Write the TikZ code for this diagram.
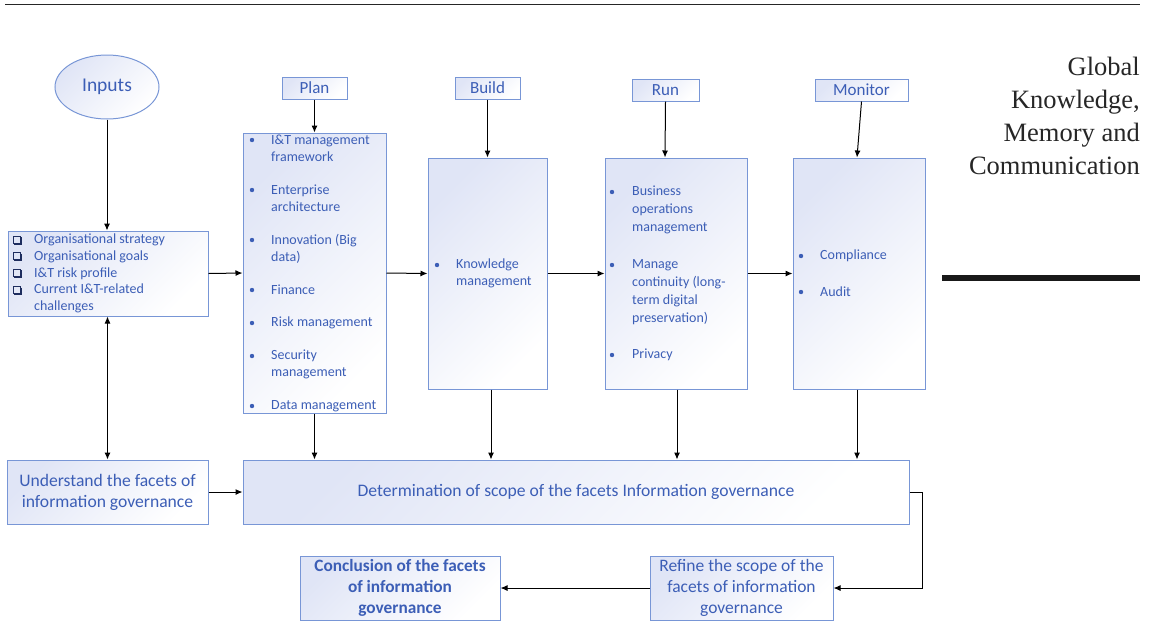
\documentclass[tikz,border=0pt]{standalone}
\usepackage{fontspec}
\setmainfont{Carlito}
\newfontfamily\serifr{Liberation Serif}
\usetikzlibrary{arrows.meta,shapes.geometric}
\definecolor{txtblue}{RGB}{60,94,182}
\definecolor{edgeblue}{RGB}{120,150,214}
\definecolor{shadeblue}{RGB}{224,229,246}
\definecolor{navy}{RGB}{30,45,95}
\tikzset{
  box/.style={draw=edgeblue, line width=1pt, top color=shadeblue, bottom color=white, shading angle=45, inner sep=0pt, text=txtblue, align=center},
  lbl/.style={box, font=\fontsize{17}{19}\selectfont},
  item/.style={anchor=west, inner sep=0pt, text=txtblue, align=left, font=\fontsize{14}{17}\selectfont},
  arr/.style={-{Latex[length=7pt,width=6pt]}, line width=1pt, black},
  dot/.style={fill=txtblue},
}
\begin{document}
\begin{tikzpicture}[x=1pt,y=-1pt]
\useasboundingbox (0,0) rectangle (1153,622);
% page rules
\draw[line width=1.5pt, black!85] (5,4.5) -- (1140,4.5);
\draw[line width=6pt, black!90] (942,278) -- (1140,278);
\node[anchor=east, inner sep=0pt, align=right, font=\serifr\fontsize{26.5}{33}\selectfont, text=black!85] (journal) at (1140,115.5) {Global\\Knowledge,\\Memory and\\Communication};

% inputs
\node[ellipse, draw=edgeblue, line width=1pt, top color=shadeblue, bottom color=white, shading angle=45, minimum width=104, minimum height=64, inner sep=0pt, text=txtblue, font=\fontsize{19.5}{21}\selectfont] (inputs) at (107,87) {Inputs};
\node[box, minimum width=200, minimum height=85] (list) at (108,273.5) {};
\node[item, font=\fontsize{14}{16.75}\selectfont] (listtxt) at (34,273.5) {Organisational strategy\\Organisational goals\\I\&T risk profile\\Current I\&T-related\\challenges};
\foreach \yy in {240,256.5,273,290.5} {
  \draw[navy, line width=0.7pt] (13,\yy-4) rectangle (20,\yy+3);
  \draw[navy, line width=1.2pt] (21,\yy-3) -- (21,\yy+4) -- (14,\yy+4);
}

% stage labels
\node[lbl, minimum width=65, minimum height=22] (planlbl) at (314.5,88) {Plan};
\node[lbl, minimum width=65, minimum height=22] (buildlbl) at (487.5,88) {Build};
\node[lbl, minimum width=67, minimum height=22] (runlbl) at (665.5,90) {Run};
\node[lbl, minimum width=93, minimum height=22] (monlbl) at (861.5,90) {Monitor};

% stage boxes
\node[box, minimum width=143, minimum height=280] (plan) at (314.5,273) {};
\node[box, minimum width=119, minimum height=231] (build) at (487.5,273.5) {};
\node[box, minimum width=142, minimum height=231] (run) at (676,273.5) {};
\node[box, minimum width=132, minimum height=231] (mon) at (859,273.5) {};

% plan items
\node[item] (p1) at (271,148.5) {I\&T management\\framework};
\node[item] (p2) at (271,198.5) {Enterprise\\architecture};
\node[item] (p3) at (271,248.5) {Innovation (Big\\data)};
\node[item] (p4) at (271,290) {Finance};
\node[item] (p5) at (271,323) {Risk management};
\node[item] (p6) at (271,364.5) {Security\\management};
\node[item] (p7) at (271,406) {Data management};
\foreach \yy in {140,190,240,290,323,356,406} \fill[dot] (252,\yy) circle (2.2);

% build items
\node[item] (b1) at (456,273.5) {Knowledge\\management};
\fill[dot] (437,265) circle (2.2);

% run items
\node[item, font=\fontsize{14}{18}\selectfont] (r1) at (632,210) {Business\\operations\\management};
\node[item, font=\fontsize{14}{18}\selectfont] (r2) at (632,292) {Manage\\continuity (long-\\term digital\\preservation)};
\node[item] (r3) at (632,355) {Privacy};
\foreach \yy in {192,265,355} \fill[dot] (612,\yy) circle (2.2);

% monitor items
\node[item] (m1) at (820,256) {Compliance};
\node[item] (m2) at (820,292) {Audit};
\foreach \yy in {256,292} \fill[dot] (801,\yy) circle (2.2);

% lower boxes
\node[box, minimum width=201, minimum height=64, font=\fontsize{17.6}{21}\selectfont] (und) at (107.5,492) {Understand the facets of\\information governance};
\node[box, minimum width=666, minimum height=64, font=\fontsize{17.6}{21}\selectfont] (det) at (576,492) {Determination of scope of the facets Information governance};
\node[box, minimum width=200, minimum height=64, font=\bfseries\fontsize{17.3}{21}\selectfont] (conc) at (400,588) {Conclusion of the facets\\of information\\governance};
\node[box, minimum width=183, minimum height=64, font=\fontsize{17.5}{21}\selectfont] (ref) at (741.5,588) {Refine the scope of the\\facets of information\\governance};

% connectors
\draw[arr] (inputs.south) -- (list.north -| inputs.south);
\draw[{Latex[length=7pt,width=6pt]}-{Latex[length=7pt,width=6pt]}, line width=1pt] (list.south -| und.north) -- (und.north);
\draw[arr] (list.east) -- (plan.west);
\draw[arr] (plan.east) -- (build.west);
\draw[arr] (build.east) -- (run.west);
\draw[arr] (run.east) -- (mon.west);
\draw[arr] (planlbl.south) -- (plan.north);
\draw[arr] (buildlbl.south) -- (build.north);
\draw[arr] (runlbl.south) -- ([xshift=-11pt]run.north);
\draw[arr] (monlbl.south) -- ([xshift=-2pt]mon.north);
\draw[arr] (plan.south) -- (plan.south |- det.north);
\draw[arr] ([xshift=3.5pt]build.south) -- ([xshift=3.5pt]build.south |- det.north);
\draw[arr] ([xshift=1pt]run.south) -- ([xshift=1pt]run.south |- det.north);
\draw[arr] ([xshift=-2pt]mon.south) -- ([xshift=-2pt]mon.south |- det.north);
\draw[arr] (und.east) -- (det.west);
\draw[arr] (det.east) -- ++(13,0) |- (ref.east);
\draw[arr] (ref.west) -- (conc.east);
\end{tikzpicture}
\end{document}
